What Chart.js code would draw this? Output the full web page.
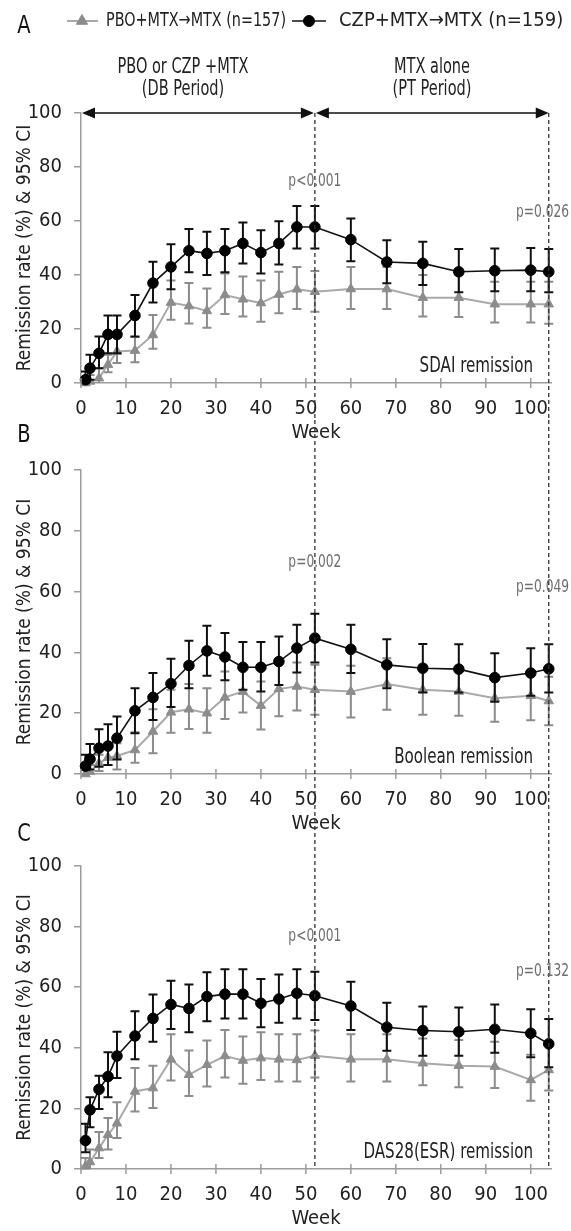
<!DOCTYPE html>
<html>
<head>
<meta charset="utf-8">
<script src="https://cdn.jsdelivr.net/npm/chart.js@4.4.0/dist/chart.umd.min.js"></script>
<style>
  html, body { margin: 0; padding: 0; background: #fff; }
  body { width: 571px; height: 1231px; position: relative; overflow: hidden; }
  .panel { position: absolute; left: 0; width: 571px; }
</style>
</head>
<body>
<div class="panel" style="top:0px;height:445px"><canvas id="chartA"></canvas></div>
<div class="panel" style="top:418px;height:418px"><canvas id="chartB"></canvas></div>
<div class="panel" style="top:818px;height:413px"><canvas id="chartC"></canvas></div>
<script>
// Weeks of assessment (shared by all panels)
const weeks = [1, 2, 4, 6, 8, 12, 16, 20, 24, 28, 32, 36, 40, 44, 48, 52, 60, 68, 76, 84, 92, 100, 104];
const xTicks = [0, 10, 20, 30, 40, 50, 60, 70, 80, 90, 100];
const yTicks = [0, 20, 40, 60, 80, 100];

const legendPbo = 'PBO+MTX\u2192MTX (n=157)';
const legendCzp = 'CZP+MTX\u2192MTX (n=159)';

// A: SDAI remission
const sdaiCzp     = [1.2, 5.5, 11, 18, 18, 25, 37, 43, 49, 48, 49, 51.7, 48.3, 51.7, 57.8, 57.8, 53.1, 44.8, 44.3, 41.2, 41.6, 41.8, 41.2];
const sdaiCzpHigh = [4.3, 10.5, 17.2, 25, 25, 32.6, 44.9, 51.4, 57, 56, 57, 59.4, 56.6, 59.9, 65.6, 65.6, 60.9, 52.9, 52.3, 49.6, 49.8, 50, 49.6];
const sdaiCzpLow  = [0, 1.2, 5.5, 11, 11, 17.2, 29.8, 34.7, 41, 40, 41, 44.3, 40.6, 43.9, 49.8, 49.8, 45.1, 36.9, 36.3, 33.6, 34, 34, 33.6];
const sdaiPbo     = [0, 0.6, 1.8, 6.8, 11.7, 12, 17.8, 29.8, 28.5, 26.7, 32.6, 31, 29.6, 32.8, 34.7, 33.8, 34.8, 34.8, 31.6, 31.6, 29.2, 29.2, 29.2];
const sdaiPboHigh = [1.5, 3, 5.5, 10.5, 17, 17, 25.2, 38, 37, 35, 40.6, 39.4, 38, 41.2, 43, 41.5, 43, 43, 40, 40, 37.5, 37.5, 37.5];
const sdaiPboLow  = [0, 0, 0, 4, 7.4, 7.7, 12.7, 23.4, 22, 20.5, 25.6, 24.6, 22.7, 25.8, 27.4, 26.4, 27.4, 27.4, 24.6, 24.4, 22.4, 22.4, 21.9];

// B: Boolean remission
const boolCzp     = [2.6, 4.9, 8.5, 9.2, 11.8, 20.8, 25.2, 29.7, 35.7, 40.5, 38.5, 35.1, 35.1, 37, 41.4, 44.7, 41, 35.9, 34.8, 34.5, 31.7, 33.2, 34.6];
const boolCzpHigh = [6.3, 9.9, 14.7, 16.4, 18.9, 28.2, 33.2, 37.9, 43.8, 48.8, 46.4, 43.4, 43.4, 45.2, 49.1, 52.7, 49.1, 44.3, 42.8, 42.7, 39.7, 41.4, 42.7];
const boolCzpLow  = [1.3, 1.5, 2.4, 3, 4.8, 13.4, 17.8, 22, 28.2, 32.3, 30.8, 27.7, 27.1, 29.3, 33.4, 36.7, 33.2, 28.2, 26.8, 26.8, 23.8, 25.7, 26.8];
const boolPbo     = [0, 0.8, 3.5, 5.4, 5.9, 7.9, 14, 20.3, 21.3, 20, 25.2, 27.1, 22.5, 28, 28.8, 27.7, 27.1, 29.6, 27.7, 27.1, 24.9, 25.7, 24];
const boolPboHigh = [1.5, 3, 6.3, 9.6, 10.1, 13.7, 21.3, 27.7, 29.6, 28.2, 33.7, 35.4, 30.4, 37, 36.7, 35.9, 35.6, 38.1, 35.9, 35, 32.6, 33.7, 32];
const boolPboLow  = [0, 0, 1, 3, 1.5, 3.7, 6.8, 13.6, 14.8, 13.6, 18.1, 20.2, 14.6, 19, 20.9, 19.5, 18.6, 21.1, 19.5, 19.2, 17.2, 17.7, 16];

// C: DAS28(ESR) remission
const dasCzp     = [9.4, 19.5, 26.3, 30.5, 37.3, 43.9, 49.7, 54.3, 53, 56.9, 57.7, 57.7, 54.7, 56.1, 58, 57.2, 53.8, 46.8, 45.7, 45.3, 46.1, 44.8, 41.3];
const dasCzpHigh = [14.9, 23.7, 30.8, 38.5, 45.3, 52.1, 57.6, 62.1, 60.9, 64.9, 65.9, 65.9, 62.7, 64.2, 65.9, 65.1, 61.8, 54.9, 53.6, 53.3, 54.3, 52.7, 49.5];
const dasCzpLow  = [5.5, 13.8, 19.8, 23.7, 30, 36.2, 42, 46.2, 45.1, 48.8, 49.7, 49.7, 46.8, 48.3, 49.7, 49.2, 45.9, 39, 37.4, 37.4, 38.4, 36.9, 33.6];
const dasPbo     = [0.9, 2.3, 6.9, 11.3, 15.1, 25.6, 26.7, 36.2, 31.1, 34.4, 37.3, 35.8, 36.6, 36.2, 36, 37.4, 36.2, 36.2, 34.9, 34.1, 33.8, 29.4, 32.7];
const dasPboHigh = [3.6, 6.4, 12.2, 16.8, 22, 33.3, 34.1, 44.5, 39.1, 42.4, 45.9, 43.7, 45.1, 44.5, 44.5, 45.7, 44.5, 44.5, 43.1, 42.6, 42, 37.7, 40.9];
const dasPboLow  = [0, 0.3, 3.6, 6.4, 10.2, 19, 20.1, 29.2, 24.1, 27.2, 30.2, 28.1, 29.4, 28.9, 28.9, 30.2, 28.9, 28.9, 27.6, 27, 26.7, 22.5, 25.9];

const FONT = "'Liberation Sans Narrow', 'DejaVu Sans Condensed', 'Arial Narrow', sans-serif";
const BLACK = '#111111';
const GRAY_MARK = '#8c8c8c';
const GRAY_LINE = '#a9a9a9';
const AXIS = '#9c9c9c';
const SQUEEZE = 0.8;   // the original face is narrower than anything installed

function pts(ys) {
    return weeks.map((w, i) => ({ x: w, y: ys[i] }));
}

// text narrowed to look like a condensed face
function narrowText(ctx, text, x, y, factor) {
    const w = ctx.measureText(text).width;
    ctx.fillText(text, x, y, w * (factor || SQUEEZE));
}

// error bars, drawn just before each dataset so the line sits on top of its own bars
const errorBars = {
    id: 'errorBars',
    beforeDatasetDraw(chart, args) {
        const ds = chart.data.datasets[args.index];
        if (!ds.ciLow) return;
        const { ctx, scales: { x, y } } = chart;
        ctx.save();
        ctx.strokeStyle = ds.barColor;
        ctx.lineWidth = 2;
        ds.ciLow.forEach((lo, i) => {
            const px = x.getPixelForValue(weeks[i]);
            const yl = y.getPixelForValue(lo);
            const yh = y.getPixelForValue(ds.ciHigh[i]);
            ctx.beginPath();
            ctx.moveTo(px, yl); ctx.lineTo(px, yh);
            ctx.moveTo(px - 4.5, yh); ctx.lineTo(px + 4.5, yh);
            if (lo > 0.3) { ctx.moveTo(px - 4.5, yl); ctx.lineTo(px + 4.5, yl); }
            ctx.stroke();
        });
        ctx.restore();
    }
};

function arrowHead(ctx, tipX, y, dir) {
    ctx.beginPath();
    ctx.moveTo(tipX, y);
    ctx.lineTo(tipX - dir * 13, y - 5.5);
    ctx.lineTo(tipX - dir * 13, y + 5.5);
    ctx.closePath();
    ctx.fill();
}

const overlay = {
    id: 'overlay',
    afterDraw(chart) {
        const { ctx, chartArea, scales: { x, y } } = chart;
        const o = chart.options.plugins.overlay;
        ctx.save();

        // crossing tick marks on the week axis
        ctx.strokeStyle = AXIS;
        ctx.lineWidth = 1.5;
        xTicks.forEach(t => {
            const px = x.getPixelForValue(t);
            ctx.beginPath();
            ctx.moveTo(px, chartArea.bottom - 5);
            ctx.lineTo(px, chartArea.bottom + 5);
            ctx.stroke();
        });

        // vertical dashed lines at week 52 and 104, continued across panels
        const top = o.dashFromTop ? y.getPixelForValue(100) : 0;
        const bottom = o.dashToAxis ? chartArea.bottom : o.dashBottom;
        ctx.strokeStyle = '#333';
        ctx.lineWidth = 1.3;
        ctx.setLineDash([4, 3]);
        ctx.lineDashOffset = o.pageTop;
        [52, 104].forEach(w => {
            const px = x.getPixelForValue(w);
            ctx.beginPath();
            ctx.moveTo(px, top);
            ctx.lineTo(px, bottom);
            ctx.stroke();
        });
        ctx.setLineDash([]);

        // panel letter
        ctx.fillStyle = '#111';
        ctx.font = '24px ' + FONT;
        ctx.textAlign = 'center';
        ctx.textBaseline = 'middle';
        narrowText(ctx, o.letter, 24, o.letterY, 0.9);

        // p-values
        ctx.fillStyle = '#6e6e6e';
        ctx.font = '17px ' + FONT;
        ctx.textAlign = 'center';
        narrowText(ctx, o.p52, x.getPixelForValue(52), y.getPixelForValue(o.p52At));
        ctx.textAlign = 'right';
        narrowText(ctx, o.p104, 569, y.getPixelForValue(o.p104At));

        // endpoint name
        ctx.fillStyle = '#222';
        ctx.font = '21px ' + FONT;
        ctx.textAlign = 'right';
        narrowText(ctx, o.name, 533, chartArea.bottom - 16);

        if (o.header) {
            const yTop = y.getPixelForValue(100);
            const x0 = x.getPixelForValue(0), x52 = x.getPixelForValue(52), x104 = x.getPixelForValue(104);
            ctx.strokeStyle = '#111';
            ctx.fillStyle = '#111';
            ctx.lineWidth = 1.6;
            ctx.beginPath();
            ctx.moveTo(x0 + 4, yTop); ctx.lineTo(x52 - 4, yTop);
            ctx.moveTo(x52 + 4, yTop); ctx.lineTo(x104 - 4, yTop);
            ctx.stroke();
            arrowHead(ctx, x0 + 1, yTop, -1);
            arrowHead(ctx, x52 - 1, yTop, 1);
            arrowHead(ctx, x52 + 1, yTop, -1);
            arrowHead(ctx, x104, yTop, 1);

            ctx.fillStyle = '#222';
            ctx.font = '21px ' + FONT;
            ctx.textAlign = 'center';
            narrowText(ctx, 'PBO or CZP +MTX', 183, 68, 0.77);
            narrowText(ctx, '(DB Period)', 183, 90, 0.77);
            narrowText(ctx, 'MTX alone', 432, 68, 0.77);
            narrowText(ctx, '(PT Period)', 432, 90, 0.77);

            // legend
            const ly = 21;
            ctx.lineWidth = 2;
            ctx.strokeStyle = GRAY_LINE;
            ctx.beginPath(); ctx.moveTo(67, ly); ctx.lineTo(98, ly); ctx.stroke();
            ctx.fillStyle = GRAY_MARK; ctx.strokeStyle = GRAY_MARK; ctx.lineWidth = 1;
            Chart.helpers.drawPoint(ctx, { pointStyle: 'triangle', radius: 6.5, borderWidth: 1 }, 82, ly);
            ctx.strokeStyle = BLACK; ctx.lineWidth = 1.6;
            ctx.beginPath(); ctx.moveTo(292, ly); ctx.lineTo(326, ly); ctx.stroke();
            ctx.fillStyle = '#000'; ctx.strokeStyle = '#000'; ctx.lineWidth = 1;
            Chart.helpers.drawPoint(ctx, { pointStyle: 'circle', radius: 5.5, borderWidth: 1 }, 309, ly);
            ctx.fillStyle = '#222';
            ctx.font = '20px ' + FONT;
            ctx.textAlign = 'left';
            ctx.fillText(legendPbo, 106, ly, 180);
            ctx.fillText(legendCzp, 339, ly, 226);
        }
        ctx.restore();
    }
};

function makePanel(id, topPad, czp, czpLow, czpHigh, pbo, pboLow, pboHigh, overlayOpts) {
    return new Chart(document.getElementById(id), {
        type: 'line',
        data: {
            datasets: [
                {
                    label: legendCzp,
                    data: pts(czp),
                    ciLow: czpLow, ciHigh: czpHigh, barColor: BLACK,
                    borderColor: BLACK, borderWidth: 1.6,
                    pointStyle: 'circle', pointRadius: 5.3,
                    pointBackgroundColor: '#000', pointBorderColor: '#000', pointBorderWidth: 1,
                    tension: 0, clip: false
                },
                {
                    label: legendPbo,
                    data: pts(pbo),
                    ciLow: pboLow, ciHigh: pboHigh, barColor: GRAY_MARK,
                    borderColor: GRAY_LINE, borderWidth: 2,
                    pointStyle: 'triangle', pointRadius: 5.5,
                    pointBackgroundColor: GRAY_MARK, pointBorderColor: GRAY_MARK, pointBorderWidth: 1,
                    tension: 0, clip: false
                }
            ]
        },
        options: {
            responsive: true,
            maintainAspectRatio: false,
            animation: false,
            layout: { padding: { top: topPad, right: 20, left: 0, bottom: 0 } },
            scales: {
                x: {
                    type: 'linear',
                    min: 0, max: 104.5,
                    afterFit: s => { s.height = 62; },
                    grid: { drawOnChartArea: false, drawTicks: false },
                    border: { display: true, color: AXIS, width: 1.5 },
                    afterBuildTicks: s => { s.ticks = xTicks.map(v => ({ value: v })); },
                    ticks: { padding: 14, color: '#222', font: { family: FONT, size: 20 } },
                    title: { display: true, text: 'Week', color: '#222', padding: 0, font: { family: FONT, size: 20 } }
                },
                y: {
                    min: 0, max: 100,
                    afterFit: s => { s.width = 81; },
                    afterBuildTicks: s => { s.ticks = yTicks.map(v => ({ value: v })); },
                    grid: { drawOnChartArea: false, drawTicks: true, tickLength: 7, color: AXIS, lineWidth: 1.5 },
                    border: { display: true, color: AXIS, width: 1.5 },
                    ticks: { padding: 12, color: '#222', font: { family: FONT, size: 20 } },
                    title: { display: true, text: 'Remission rate (%) & 95% CI', color: '#222',
                             padding: { top: 14, bottom: 0 }, font: { family: FONT, size: 19 } }
                }
            },
            plugins: {
                legend: { display: false },
                tooltip: { enabled: false },
                overlay: overlayOpts
            }
        },
        plugins: [errorBars, overlay]
    });
}

makePanel('chartA', 113, sdaiCzp, sdaiCzpLow, sdaiCzpHigh, sdaiPbo, sdaiPboLow, sdaiPboHigh, {
    letter: 'A', letterY: 27, header: true, pageTop: 0,
    dashFromTop: true, dashBottom: 418,
    p52: 'p<0.001', p52At: 74.6, p104: 'p=0.026', p104At: 63.3,
    name: 'SDAI remission'
});
makePanel('chartB', 52, boolCzp, boolCzpLow, boolCzpHigh, boolPbo, boolPboLow, boolPboHigh, {
    letter: 'B', letterY: 18, header: false, pageTop: 418,
    dashFromTop: false, dashBottom: 400,
    p52: 'p=0.002', p52At: 69.4, p104: 'p=0.049', p104At: 61.2,
    name: 'Boolean remission'
});
makePanel('chartC', 48, dasCzp, dasCzpLow, dasCzpHigh, dasPbo, dasPboLow, dasPboHigh, {
    letter: 'C', letterY: 17, header: false, pageTop: 818,
    dashFromTop: false, dashToAxis: true,
    p52: 'p<0.001', p52At: 76.6, p104: 'p=0.132', p104At: 65.1,
    name: 'DAS28(ESR) remission'
});
</script>
</body>
</html>
